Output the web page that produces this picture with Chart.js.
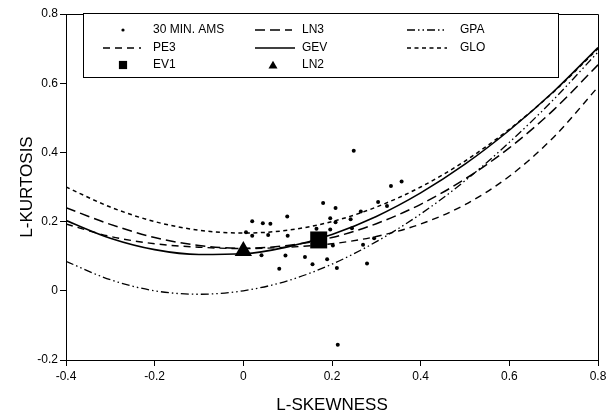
<!DOCTYPE html>
<html><head><meta charset="utf-8">
<script src="https://cdn.jsdelivr.net/npm/chart.js@4/dist/chart.umd.min.js"></script>
<style>html,body{margin:0;padding:0;background:#fff}#wrap{width:612px;height:414px}</style>
</head><body><div id="wrap"><canvas id="c" width="612" height="414"></canvas></div>
<script>
// ---- data ----
const tau3 = [-0.4,-0.3,-0.2,-0.1,0,0.1,0.2,0.3,0.4,0.5,0.6,0.7,0.8];
const gloT4 = [0.300,0.242,0.200,0.175,0.167,0.175,0.200,0.242,0.300,0.375,0.467,0.575,0.700];
const gpaT4 = [0.085,0.032,0.000,-0.010,0.000,0.029,0.077,0.142,0.222,0.318,0.429,0.553,0.690];
const gevT4 = [0.203,0.152,0.119,0.105,0.107,0.127,0.163,0.215,0.283,0.366,0.464,0.576,0.703];
const pe3T4 = [0.193,0.157,0.136,0.126,0.122,0.126,0.136,0.157,0.193,0.249,0.331,0.444,0.589];
const ln3T4 = [0.240,0.192,0.154,0.131,0.123,0.131,0.154,0.194,0.250,0.323,0.413,0.523,0.653];
const amsX = [0.249,0.333,0.357,0.180,0.208,0.304,0.324,0.265,0.242,0.196,0.208,0.020,0.044,0.061,0.099,0.006,0.020,0.056,0.100,0.165,0.196,0.245,0.295,0.202,0.270,0.041,0.095,0.139,0.189,0.156,0.081,0.211,0.279,0.213];
const amsY = [0.405,0.303,0.316,0.254,0.239,0.257,0.245,0.229,0.207,0.210,0.198,0.201,0.195,0.194,0.215,0.169,0.159,0.161,0.159,0.179,0.177,0.181,0.152,0.131,0.133,0.103,0.102,0.098,0.091,0.077,0.064,0.066,0.079,-0.156];
const ev1X = [0.170], ev1Y = [0.147];
const ln2X = [0.000], ln2Y = [0.115];
const xTickLabels = ['-0.4','-0.2','0','0.2','0.4','0.6','0.8'];
const yTickLabels = ['-0.2','0','0.2','0.4','0.6','0.8'];
const legendLabels = ['30 MIN. AMS','LN3','GPA','PE3','GEV','GLO','EV1','LN2'];

const pts = (xs, ys) => xs.map((x, i) => ({x, y: ys[i]}));
const FONT = "'Liberation Sans', Arial, sans-serif";

const curve = (label, ys, dash, width) => ({
  label, data: pts(tau3, ys), showLine: true, borderColor: '#000', borderWidth: width,
  borderDash: dash, pointRadius: 0, cubicInterpolationMode: 'monotone', fill: false, order: 5
});

const datasets = [
  {label: legendLabels[0], data: pts(amsX, amsY), pointRadius: 2, pointStyle: 'circle',
   backgroundColor: '#000', borderColor: '#000', borderWidth: 0, showLine: false, order: 1},
  curve(legendLabels[1], ln3T4, [10,5], 1.5),
  curve(legendLabels[2], gpaT4, [8,3,1.5,3,1.5,3], 1.3),
  curve(legendLabels[3], pe3T4, [7,5], 1.4),
  curve(legendLabels[4], gevT4, [], 1.6),
  curve(legendLabels[5], gloT4, [4,3.5], 1.5),
  {label: legendLabels[6], data: pts(ev1X, ev1Y), pointRadius: 12, pointStyle: 'rect',
   backgroundColor: '#000', borderColor: '#000', borderWidth: 0, showLine: false, order: 0},
  {label: legendLabels[7], data: pts(ln2X, ln2Y), pointRadius: 10, pointStyle: 'triangle',
   backgroundColor: '#000', borderColor: '#000', borderWidth: 0, showLine: false, order: 0}
];

const framePlugin = {
  id: 'frame',
  afterDatasetsDraw(chart) {
    const {ctx, chartArea: a} = chart;
    ctx.save();
    ctx.strokeStyle = '#000'; ctx.lineWidth = 1;
    ctx.beginPath();
    ctx.moveTo(a.left, Math.round(a.top) + 0.5);
    ctx.lineTo(Math.round(a.right) + 0.5, Math.round(a.top) + 0.5);
    ctx.lineTo(Math.round(a.right) + 0.5, a.bottom);
    ctx.stroke();
    ctx.restore();
  }
};

const legendPlugin = {
  id: 'boxLegend',
  afterDraw(chart) {
    const ctx = chart.ctx;
    const box = {l: 83, t: 13, r: 558, b: 77};
    ctx.save();
    ctx.fillStyle = '#fff';
    ctx.fillRect(box.l, box.t, box.r - box.l, box.b - box.t);
    ctx.strokeStyle = '#000'; ctx.lineWidth = 1;
    ctx.strokeRect(box.l + 0.5, box.t + 0.5, box.r - box.l, box.b - box.t);
    const rows = [30, 48, 65];
    const textX = [153, 302, 460];
    // [datasetIndex, col, row, kind, a, b]
    const items = [
      [0, 0, 0, 'pt', 123, 1.6],
      [1, 1, 0, 'ln', 255, 292],
      [2, 2, 0, 'ln', 407, 447],
      [3, 0, 1, 'ln', 103, 141],
      [4, 1, 1, 'ln', 255, 295],
      [5, 2, 1, 'ln', 407, 447],
      [6, 0, 2, 'pt', 123, 5.8],
      [7, 1, 2, 'pt', 273, 5.2]
    ];
    ctx.font = '12px ' + FONT;
    ctx.textBaseline = 'middle';
    ctx.textAlign = 'left';
    items.forEach(([di, col, row, kind, a, b]) => {
      const ds = chart.data.datasets[di];
      const y = rows[row];
      if (kind === 'ln') {
        ctx.save();
        ctx.strokeStyle = '#000';
        ctx.lineWidth = ds.borderWidth;
        ctx.setLineDash(ds.borderDash);
        ctx.beginPath(); ctx.moveTo(a, y); ctx.lineTo(b, y); ctx.stroke();
        ctx.restore();
      } else {
        ctx.save();
        ctx.fillStyle = '#000'; ctx.strokeStyle = '#000'; ctx.lineWidth = 0;
        Chart.helpers.drawPoint(ctx, {pointStyle: ds.pointStyle, radius: b, borderWidth: 0, rotation: 0}, a, y + (ds.pointStyle === 'triangle' ? 1 : 0));
        ctx.restore();
      }
      ctx.fillStyle = '#000';
      ctx.fillText(ds.label, textX[col], y);
    });
    ctx.restore();
  }
};

const findLabel = (arr, v) => arr.find(l => Math.abs(parseFloat(l) - v) < 1e-6) ?? '';

new Chart(document.getElementById('c'), {
  type: 'scatter',
  data: {datasets},
  options: {
    responsive: false, devicePixelRatio: 1, animation: false,
    layout: {padding: {left: 0, right: 14, top: 14, bottom: 0}},
    plugins: {legend: {display: false}, tooltip: {enabled: false}},
    scales: {
      x: {
        type: 'linear', min: -0.4, max: 0.8,
        ticks: {stepSize: 0.2, color: '#000', font: {family: FONT, size: 12}, padding: 3,
                maxRotation: 0, callback: v => findLabel(xTickLabels, v)},
        grid: {drawOnChartArea: false, drawTicks: true, tickLength: 6, color: '#000', lineWidth: 1},
        border: {display: true, color: '#000', width: 1},
        title: {display: true, text: 'L-SKEWNESS', color: '#000',
                font: {family: FONT, size: 17, lineHeight: 1}, padding: {top: 0, bottom: 0}},
        afterFit: s => { s.height = 54; }
      },
      y: {
        type: 'linear', min: -0.2, max: 0.8,
        ticks: {stepSize: 0.2, color: '#000', font: {family: FONT, size: 12}, padding: 2,
                callback: v => findLabel(yTickLabels, v)},
        grid: {drawOnChartArea: false, drawTicks: true, tickLength: 6, color: '#000', lineWidth: 1},
        border: {display: true, color: '#000', width: 1},
        title: {display: true, text: 'L-KURTOSIS', color: '#000',
                font: {family: FONT, size: 17, lineHeight: 1}, padding: {top: 19, bottom: 0}},
        afterFit: s => { s.width = 66; }
      }
    }
  },
  plugins: [framePlugin, legendPlugin]
});
</script>
</body></html>
